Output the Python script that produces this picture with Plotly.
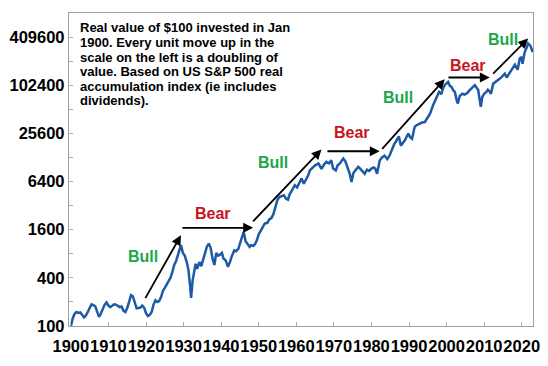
import math
import plotly.graph_objects as go

years = [1900.0, 1900.5, 1901.0, 1901.5, 1902.0, 1902.5, 1903.0, 1903.5, 1904.0, 1904.5,
         1905.0, 1905.5, 1906.0, 1906.5, 1907.0, 1907.5, 1907.9, 1908.5, 1909.0, 1909.5,
         1910.0, 1910.5, 1911.0, 1911.5, 1912.0, 1912.5, 1913.0, 1913.5, 1914.0, 1914.5,
         1915.0, 1915.5, 1916.0, 1916.5, 1917.0, 1917.5, 1918.0, 1918.5, 1919.0, 1919.5,
         1920.0, 1920.5, 1921.0, 1921.5, 1922.0, 1922.5, 1923.0, 1923.5, 1924.0, 1924.5,
         1925.0, 1925.5, 1926.0, 1926.5, 1927.0, 1927.5, 1928.0, 1928.5, 1929.0, 1929.3,
         1929.8, 1930.3, 1930.8, 1931.3, 1931.7, 1932.0, 1932.4, 1932.8, 1933.2, 1933.6,
         1934.2, 1934.7, 1935.2, 1935.7, 1936.2, 1936.7, 1937.2, 1937.7, 1938.2, 1938.7,
         1939.2, 1939.7, 1940.2, 1940.6, 1941.2, 1941.8, 1942.3, 1942.8, 1943.5, 1944.0,
         1944.6, 1945.2, 1945.7, 1946.0, 1946.5, 1947.0, 1947.6, 1948.0, 1948.5, 1949.0,
         1949.5, 1950.0, 1950.5, 1951.0, 1951.6, 1952.3, 1952.8, 1953.4, 1953.9, 1954.4,
         1955.0, 1955.5, 1956.1, 1956.7, 1957.3, 1957.8, 1958.2, 1958.8, 1959.6, 1960.2,
         1960.8, 1961.4, 1962.0, 1962.6, 1963.2, 1963.6, 1964.2, 1965.0, 1965.9, 1966.7,
         1967.3, 1968.0, 1968.7, 1969.3, 1969.8, 1970.5, 1971.0, 1971.6, 1972.5, 1973.0,
         1973.5, 1974.2, 1974.7, 1975.2, 1975.8, 1976.5, 1977.0, 1977.6, 1978.2, 1978.8,
         1979.4, 1980.0, 1980.6, 1981.0, 1981.5, 1982.2, 1982.8, 1983.5, 1984.2, 1984.8,
         1985.3, 1986.0, 1986.7, 1987.3, 1987.8, 1988.5, 1988.9, 1989.8, 1990.3, 1990.8,
         1991.5, 1992.0, 1992.8, 1993.5, 1994.2, 1994.7, 1995.6, 1996.4, 1997.3, 1998.0,
         1998.6, 1999.0, 1999.5, 2000.4, 2000.9, 2001.3, 2001.8, 2002.2, 2002.7, 2003.0,
         2003.5, 2004.2, 2004.8, 2005.5, 2006.1, 2006.8, 2007.5, 2008.0, 2008.4, 2008.8,
         2009.1, 2009.5, 2010.0, 2010.6, 2011.0, 2011.5, 2011.8, 2012.4, 2013.0, 2013.5,
         2014.2, 2014.8, 2015.5, 2016.0, 2016.8, 2017.5, 2018.2, 2018.6, 2018.9, 2019.5,
         2020.0, 2020.2, 2020.8, 2021.3, 2021.7, 2022.0, 2022.3, 2022.9]

values = [100, 125, 142, 150, 146, 148, 138, 128, 135, 150,
          170, 186, 182, 176, 150, 130, 140, 166, 185, 197,
          180, 172, 182, 187, 185, 180, 172, 175, 155, 150,
          168, 200, 243, 235, 200, 166, 168, 170, 180, 170,
          145, 133, 138, 150, 185, 210, 200, 205, 230, 275,
          300, 330, 370, 400, 470, 580, 650, 800, 950, 1025,
          820, 760, 640, 500, 330, 225, 370, 460, 600, 520,
          630, 560, 680, 850, 980, 1075, 950, 700, 580, 820,
          760, 780, 820, 700, 660, 550, 620, 740, 880, 860,
          930, 1150, 1350, 1500, 1150, 1050, 975, 1030, 1000, 1050,
          1180, 1400, 1580, 1700, 1913, 1950, 2150, 2250, 2500, 3090,
          3800, 4100, 4200, 4300, 3900, 3800, 4400, 5000, 5760, 5400,
          6300, 7000, 6000, 6700, 7700, 8800, 9500, 10200, 10750, 9200,
          10300, 11270, 10800, 11840, 9300, 8800, 10200, 10800, 12400, 11600,
          10000, 8060, 6300, 8200, 8900, 9770, 9300, 8700, 8000, 9000,
          8700, 9300, 9600, 9300, 8000, 11700, 12800, 13500, 12200, 13500,
          15760, 18500, 21000, 23500, 18000, 20000, 21000, 25500, 23000, 22000,
          30800, 32400, 34000, 35000, 35500, 39300, 45200, 57600, 70000, 84500,
          79000, 92000, 102400, 112700, 100000, 98000, 88000, 84400, 66000, 60500,
          75000, 80000, 78000, 82000, 88000, 95000, 102400, 95000, 90000, 68000,
          54900, 73000, 80000, 84400, 90000, 85000, 80000, 107000, 112000, 117000,
          124000, 132000, 143000, 128000, 150000, 165000, 185000, 172000, 160000, 221000,
          232000, 190000, 266000, 300000, 340000, 330000, 320000, 266000]

y_tick_values = [100, 200, 400, 800, 1600, 3200, 6400, 12800, 25600, 51200,
                 102400, 204800, 409600, 819200]
y_tick_labels = ["100", "", "400", "", "1600", "", "6400", "", "25600", "",
                 "102400", "", "409600", ""]
x_tick_values = [1900, 1910, 1920, 1930, 1940, 1950, 1960, 1970, 1980, 1990, 2000, 2010, 2020]
x_tick_labels = [str(v) for v in x_tick_values]

# Bull / Bear phases (arrows)
phase_labels = ["Bull", "Bear", "Bull", "Bear", "Bull", "Bear", "Bull"]
arrow_start_year = [1919.6, 1929.3, 1948.1, 1967.9, 1982.5, 2000.1, 2012.0]
arrow_start_val = [214, 1690, 1945, 15300, 15700, 128000, 137000]
arrow_end_year = [1929.3, 1948.5, 1966.7, 1982.2, 1999.5, 2011.5, 2021.7]
arrow_end_val = [1365, 1690, 16100, 15300, 121700, 128000, 393000]
label_year = [1919.1, 1937.9, 1953.8, 1974.7, 1987.1, 2005.7, 2015.0]
label_val = [731, 2545, 10920, 25950, 71900, 182000, 385000]

note_lines = ["Real value of $100 invested in Jan",
              "1900. Every unit move up in the",
              "scale on the left is a doubling of",
              "value. Based on US S&P 500 real",
              "accumulation index (ie includes",
              "dividends)."]

BOLD = "Liberation Sans, Arial, sans-serif"
GREEN = "#1ea64b"
RED = "#c8141e"

W, H = 548, 366
ML, MR, MT, MB = 69, 15, 13, 40
PH = H - MT - MB

fig = go.Figure()
fig.add_trace(go.Scatter(x=years, y=values, mode="lines",
                         line=dict(color="#1c5aa6", width=2.5),
                         hoverinfo="skip", showlegend=False))

annotations = []
for i in range(len(phase_labels)):
    annotations.append(dict(
        x=arrow_end_year[i], y=math.log10(arrow_end_val[i]),
        ax=arrow_start_year[i], ay=math.log10(arrow_start_val[i]),
        xref="x", yref="y", axref="x", ayref="y",
        text="", showarrow=True, arrowhead=2, arrowsize=1.1,
        arrowwidth=1.8, arrowcolor="black", standoff=0, startstandoff=0))
    annotations.append(dict(
        x=label_year[i], y=math.log10(label_val[i]), xref="x", yref="y",
        text="<b>%s</b>" % phase_labels[i], showarrow=False,
        font=dict(family=BOLD, size=16,
                  color=GREEN if phase_labels[i] == "Bull" else RED)))

for k, line in enumerate(note_lines):
    py = 28 + 14.5 * k
    annotations.append(dict(
        x=(78 - ML) / (W - ML - MR), y=(H - MB - py) / PH,
        xref="paper", yref="paper", xanchor="left", yanchor="middle",
        align="left", showarrow=False, text="<b>%s</b>" % line,
        font=dict(family=BOLD, size=13, color="black")))

fig.update_layout(
    template="none",
    width=W, height=H,
    margin=dict(l=ML, r=MR, t=MT, b=MB, autoexpand=False),
    paper_bgcolor="white", plot_bgcolor="white",
    font=dict(family=BOLD, color="black"),
    showlegend=False,
    annotations=annotations,
    xaxis=dict(range=[1899.5, 2023.0], tickvals=x_tick_values, ticktext=x_tick_labels,
               tickangle=0, automargin=False, ticklabelstandoff=5,
               ticks="inside", ticklen=4, tickcolor="#b0b0b0",
               showline=True, linecolor="#a0a0a0", linewidth=1.3, mirror=True,
               showgrid=False, zeroline=False,
               tickfont=dict(family=BOLD, size=16.5, color="black", weight="bold")),
    yaxis=dict(type="log", range=[math.log10(100), math.log10(819200)],
               tickvals=y_tick_values, ticktext=y_tick_labels, automargin=False,
               ticks="inside", ticklen=4, tickcolor="#b0b0b0",
               showline=True, linecolor="#a0a0a0", linewidth=1.3, mirror=True,
               showgrid=False, zeroline=False,
               tickfont=dict(family=BOLD, size=16.5, color="black", weight="bold")),
)

fig.write_html("out.html", config={"displayModeBar": False},
               post_script="document.body.style.margin='0';document.body.style.padding='0';")
